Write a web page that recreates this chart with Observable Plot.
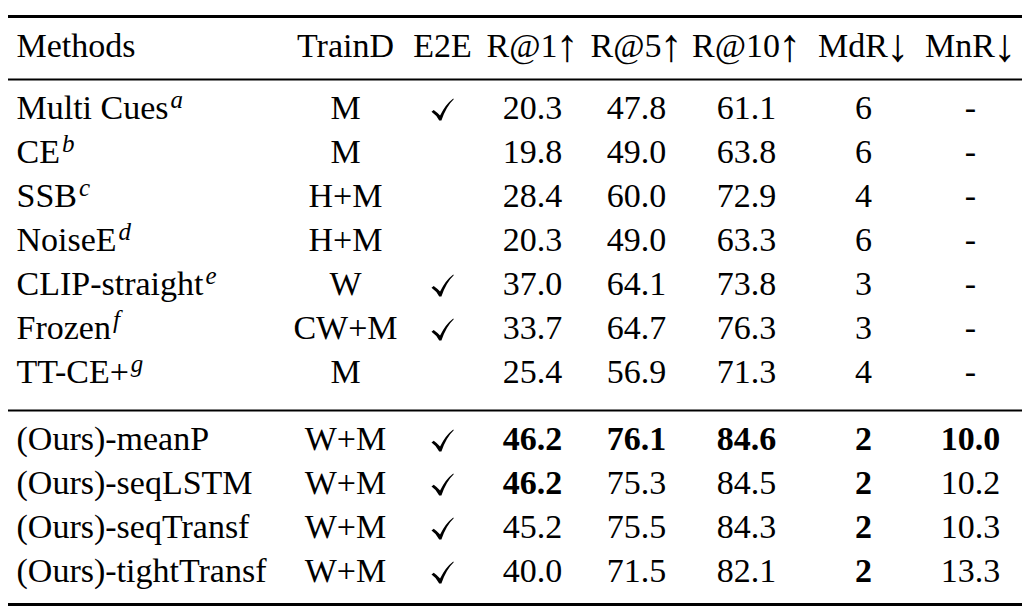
<!DOCTYPE html>
<html>
<head>
<meta charset="utf-8">
<script src="https://cdn.jsdelivr.net/npm/d3@7"></script>
<script src="https://cdn.jsdelivr.net/npm/@observablehq/plot@0.6"></script>
<style>
  body { margin: 0; background: #fff; }
  #tabla svg { display: block; }
</style>
</head>
<body>
<div id="tabla"></div>
<script>
// Cabeceras e filas da táboa
const columnas = ["Methods", "TrainD", "E2E", "R@1↑", "R@5↑", "R@10↑", "MdR↓", "MnR↓"];
const metodos = ["Multi Cues", "CE", "SSB", "NoiseE", "CLIP-straight", "Frozen", "TT-CE+",
  "(Ours)-meanP", "(Ours)-seqLSTM", "(Ours)-seqTransf", "(Ours)-tightTransf"];
const superindices = ["a", "b", "c", "d", "e", "f", "g", "", "", "", ""];
const grupo = [0, 0, 0, 0, 0, 0, 0, 1, 1, 1, 1];
const trainD = ["M", "M", "H+M", "H+M", "W", "CW+M", "M", "W+M", "W+M", "W+M", "W+M"];
const e2e = [true, false, false, false, true, true, false, true, true, true, true];
const r1 = [20.3, 19.8, 28.4, 20.3, 37.0, 33.7, 25.4, 46.2, 46.2, 45.2, 40.0];
const r5 = [47.8, 49.0, 60.0, 49.0, 64.1, 64.7, 56.9, 76.1, 75.3, 75.5, 71.5];
const r10 = [61.1, 63.8, 72.9, 63.3, 73.8, 76.3, 71.3, 84.6, 84.5, 84.3, 82.1];
const mdr = [6, 6, 4, 6, 3, 3, 4, 2, 2, 2, 2];
const mnr = [null, null, null, null, null, null, null, 10.0, 10.2, 10.3, 13.3];

// Disposición (non son datos): centro de cada columna e posición vertical das filas
const COL_X = { "Methods": 16, "TrainD": 345, "E2E": 442, "R@1↑": 532, "R@5↑": 636,
  "R@10↑": 746, "MdR↓": 863, "MnR↓": 970 };
const BORDE = [8, 1022];
const filaY = (i) => 1.41 + i + (grupo[i] ? 0.52 : 0);
const REGRAS = [
  { y: -0.93, w: 3 },
  { y: 0.5, w: 2 },
  { y: 8.02, w: 2 },
  { y: 12.43, w: 3 },
];

const metricas = [
  { col: "R@1↑", v: r1, mellor: "max", fmt: (d) => d.toFixed(1) },
  { col: "R@5↑", v: r5, mellor: "max", fmt: (d) => d.toFixed(1) },
  { col: "R@10↑", v: r10, mellor: "max", fmt: (d) => d.toFixed(1) },
  { col: "MdR↓", v: mdr, mellor: "min", fmt: (d) => `${d}` },
  { col: "MnR↓", v: mnr, mellor: "min", fmt: (d) => d.toFixed(1) },
];

const celas = [];
metodos.forEach((m, i) => {
  celas.push({ i, col: "TrainD", texto: trainD[i], negra: false });
  metricas.forEach((c) => {
    const val = c.v[i];
    const validos = c.v.filter((d) => d != null);
    const top = c.mellor === "max" ? d3.max(validos) : d3.min(validos);
    celas.push({
      i,
      col: c.col,
      texto: val == null ? "-" : c.fmt(val),
      negra: val != null && val === top,
    });
  });
});
const filas = metodos.map((m, i) => ({ i, m, sup: superindices[i] }));
const marcas = filas.filter((d) => e2e[d.i]);

// \checkmark de LaTeX coma símbolo propio: trazo curto grosso e trazo longo fino
const visto = {
  draw(ctx, size) {
    const s = Math.sqrt(size / Math.PI);
    const p = (x, y) => [x * s, y * s];
    ctx.moveTo(...p(-1.0, 0.2));
    ctx.lineTo(...p(-0.8, 0.04));
    ctx.quadraticCurveTo(...p(-0.5, 0.25), ...p(-0.22, 0.55));
    ctx.quadraticCurveTo(...p(0.25, -0.45), ...p(0.98, -1.0));
    ctx.lineTo(...p(1.02, -0.93));
    ctx.quadraticCurveTo(...p(0.35, -0.3), ...p(-0.1, 1.0));
    ctx.lineTo(...p(-0.3, 1.0));
    ctx.quadraticCurveTo(...p(-0.55, 0.5), ...p(-1.0, 0.2));
    ctx.closePath();
  },
};

const DY = -11; // compensa o 0.32em de Plot para que y sexa a liña base
const plot = Plot.plot({
  width: 1033,
  height: 616,
  margin: 0,
  x: { domain: [0, 1033], range: [0, 1033], axis: null },
  y: { domain: [0, 1], range: [57, 101], axis: null },
  style: {
    background: "#fff",
    color: "#000",
    fontFamily: "'Liberation Serif', 'Times New Roman', serif",
    fontSize: "34px",
  },
  marks: [
    Plot.ruleY(REGRAS, { y: "y", x1: BORDE[0], x2: BORDE[1], stroke: "#000", strokeWidth: "w" }),
    Plot.text(["Methods"], { x: (d) => COL_X[d], y: () => 0, text: (d) => d, textAnchor: "start", dy: DY, fill: "#000" }),
    Plot.text(columnas.slice(1), { x: (d) => COL_X[d], y: () => 0, text: (d) => d, textAnchor: "middle", dy: DY, fill: "#000" }),
    Plot.text(filas, {
      x: () => COL_X.Methods, y: (d) => filaY(d.i), text: "m",
      textAnchor: "start", dy: DY, fill: "#000",
    }),
    Plot.text(celas.filter((d) => !d.negra), {
      x: (d) => COL_X[d.col], y: (d) => filaY(d.i), text: "texto",
      textAnchor: "middle", dy: DY, fill: "#000",
    }),
    Plot.text(celas.filter((d) => d.negra), {
      x: (d) => COL_X[d.col], y: (d) => filaY(d.i), text: "texto",
      textAnchor: "middle", dy: DY, fill: "#000", fontWeight: "bold",
    }),
    Plot.dot(marcas, {
      x: () => COL_X["E2E"], y: (d) => filaY(d.i), symbol: visto, r: 11,
      dy: -10, fill: "#000", stroke: "none",
    }),
  ],
});

const SVGNS = "http://www.w3.org/2000/svg";
plot.querySelectorAll("text").forEach((n) => {
  const txt = n.textContent;
  // superíndices en itálica sobre os nomes dos métodos
  const k = metodos.indexOf(txt);
  if (k >= 0 && superindices[k]) {
    const t = document.createElementNS(SVGNS, "tspan");
    t.textContent = superindices[k];
    t.setAttribute("font-family", "'Liberation Serif', 'DejaVu Serif', serif");
    t.setAttribute("font-style", "italic");
    t.setAttribute("font-size", "25");
    t.setAttribute("dy", "-11");
    t.setAttribute("dx", "2");
    n.appendChild(t);
  }
  // frechas das cabeceras máis altas, coma en LaTeX
  if (columnas.includes(txt) && /[↑↓]$/.test(txt)) {
    n.textContent = txt.slice(0, -1);
    const t = document.createElementNS(SVGNS, "tspan");
    t.textContent = txt.slice(-1);
    t.setAttribute("font-size", "46");
    t.setAttribute("dy", "4");
    t.setAttribute("dx", "-2");
    n.appendChild(t);
  }
});

document.getElementById("tabla").appendChild(plot);
</script>
</body>
</html>
